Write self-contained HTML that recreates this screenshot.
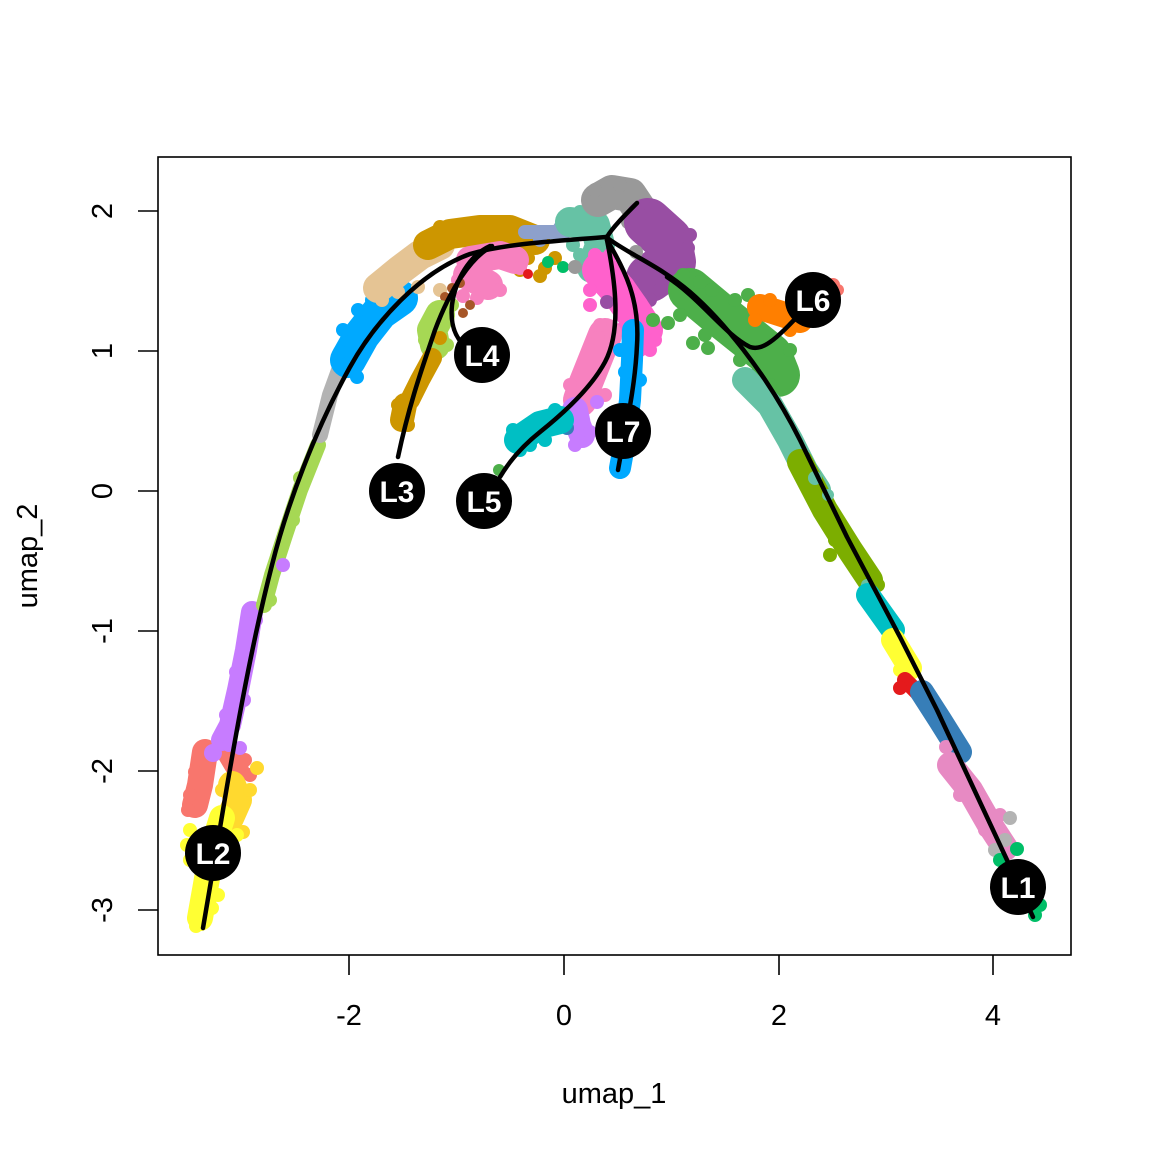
<!DOCTYPE html>
<html><head><meta charset="utf-8"><style>
html,body{margin:0;padding:0;background:#fff;}
svg{display:block}
.b{fill:none;stroke-linecap:round;stroke-linejoin:round}
text{font-family:"Liberation Sans",Arial,sans-serif;}
</style></head><body>
<svg width="1152" height="1152" viewBox="0 0 1152 1152" xmlns="http://www.w3.org/2000/svg">
<rect width="1152" height="1152" fill="#fff"/>

<!-- LEFT ARC -->
<g fill="#F8766D"><path class="b" stroke="#F8766D" stroke-width="26" d="M205,752 L200,785 L195,805"/><path class="b" stroke="#F8766D" stroke-width="22" d="M225,748 L238,770"/>
<circle cx="190" cy="795" r="7"/><circle cx="188" cy="810" r="7"/><circle cx="245" cy="760" r="7"/><circle cx="250" cy="775" r="7"/><circle cx="195" cy="772" r="7"/></g>
<g fill="#C77CFF"><path class="b" stroke="#C77CFF" stroke-width="22" d="M252,612 L246,650 L238,690 L230,725 L222,740"/>
<circle cx="213" cy="753" r="9"/><circle cx="240" cy="748" r="7"/><circle cx="256" cy="620" r="7"/><circle cx="244" cy="700" r="7"/><circle cx="229" cy="745" r="7"/><circle cx="236" cy="672" r="7"/><circle cx="226" cy="715" r="7"/></g>
<g fill="#FFD92F"><path class="b" stroke="#FFD92F" stroke-width="28" d="M232,785 L238,800 L230,818"/>
<circle cx="257" cy="768" r="7"/><circle cx="243" cy="832" r="7"/><circle cx="222" cy="790" r="7"/><circle cx="250" cy="790" r="7"/></g>
<g fill="#FFFF33"><path class="b" stroke="#FFFF33" stroke-width="26" d="M222,818 L212,850 L205,890 L200,918"/>
<circle cx="196" cy="926" r="7"/><circle cx="190" cy="830" r="7"/><circle cx="237" cy="835" r="7"/><circle cx="190" cy="860" r="7"/><circle cx="218" cy="895" r="7"/><circle cx="212" cy="908" r="7"/><circle cx="187" cy="845" r="7"/></g>
<g fill="#A6D854"><path class="b" stroke="#A6D854" stroke-width="16" d="M318,445 L300,490 L285,535 L272,575 L264,605"/>
<circle cx="300" cy="478" r="7"/><circle cx="293" cy="520" r="7"/><circle cx="270" cy="600" r="7"/></g>
<circle cx="283" cy="565" r="7" fill="#C77CFF"/>
<path class="b" stroke="#B3B3B3" stroke-width="16" d="M342,362 L330,395 L320,435"/>
<g fill="#00A9FF"><path class="b" stroke="#00A9FF" stroke-width="36" d="M348,360 L362,335 L380,312 L400,298"/>
<circle cx="408" cy="303" r="8"/><circle cx="357" cy="377" r="7"/><circle cx="340" cy="352" r="7"/><circle cx="343" cy="330" r="7"/><circle cx="372" cy="300" r="7"/><circle cx="358" cy="310" r="7"/></g>
<g fill="#E5C494"><path class="b" stroke="#E5C494" stroke-width="30" d="M378,288 L400,270 L420,255 L440,245"/>
<circle cx="440" cy="290" r="7"/><circle cx="418" cy="287" r="7"/><circle cx="398" cy="292" r="7"/><circle cx="382" cy="300" r="7"/></g>

<!-- TOP -->
<g fill="#CD9600"><path class="b" stroke="#CD9600" stroke-width="30" d="M428,245 L450,234 L480,230 L510,230 L535,240"/>
<circle cx="425" cy="238" r="7"/><circle cx="440" cy="227" r="7"/><circle cx="470" cy="224" r="7"/><circle cx="495" cy="224" r="7"/><circle cx="515" cy="227" r="7"/><circle cx="528" cy="258" r="7"/><circle cx="545" cy="268" r="7"/><circle cx="555" cy="258" r="7"/><circle cx="540" cy="276" r="7"/><circle cx="520" cy="270" r="7"/><circle cx="505" cy="262" r="7"/></g>
<g fill="#8DA0CB"><path class="b" stroke="#8DA0CB" stroke-width="14" d="M525,232 L565,232"/><circle cx="560" cy="228" r="7"/><circle cx="540" cy="240" r="7"/></g>
<g fill="#66C2A5"><path class="b" stroke="#66C2A5" stroke-width="30" d="M570,222 L595,225 L600,245 L592,268"/>
<circle cx="580" cy="212" r="7"/><circle cx="573" cy="245" r="7"/><circle cx="580" cy="255" r="7"/><circle cx="600" cy="282" r="7"/><circle cx="593" cy="275" r="7"/></g>
<g fill="#00BE67"><circle cx="548" cy="262" r="6"/><circle cx="563" cy="267" r="6"/></g>
<g fill="#F781BF"><path class="b" stroke="#F781BF" stroke-width="28" d="M470,260 L500,255 L515,260"/><path class="b" stroke="#F781BF" stroke-width="30" d="M468,275 L488,285"/>
<circle cx="463" cy="296" r="7"/><circle cx="477" cy="298" r="7"/><circle cx="500" cy="290" r="7"/><circle cx="520" cy="268" r="7"/><circle cx="458" cy="280" r="7"/></g>
<circle cx="528" cy="274" r="5" fill="#E41A1C"/>
<g fill="#A65628"><circle cx="445" cy="297" r="5"/><circle cx="452" cy="288" r="5"/><circle cx="460" cy="283" r="5"/><circle cx="470" cy="305" r="5"/><circle cx="463" cy="313" r="5"/></g>
<g fill="#A6D854"><path class="b" stroke="#A6D854" stroke-width="30" d="M440,315 L432,330 L435,345"/><circle cx="452" cy="305" r="7"/><circle cx="447" cy="345" r="7"/><circle cx="425" cy="340" r="7"/></g>
<g fill="#CD9600"><path class="b" stroke="#CD9600" stroke-width="20" d="M432,358 L420,380 L410,400"/><path class="b" stroke="#CD9600" stroke-width="24" d="M405,405 L402,420"/>
<circle cx="398" cy="405" r="7"/><circle cx="408" cy="425" r="7"/><circle cx="425" cy="370" r="7"/><circle cx="440" cy="338" r="7"/></g>
<g fill="#999999"><path class="b" stroke="#999999" stroke-width="34" d="M598,200 L612,192 L630,195 L640,210"/>
<circle cx="595" cy="190" r="7"/><circle cx="620" cy="185" r="7"/><circle cx="648" cy="210" r="7"/><circle cx="628" cy="222" r="7"/><circle cx="645" cy="230" r="7"/></g>
<g fill="#984EA3"><path class="b" stroke="#984EA3" stroke-width="48" d="M648,222 L668,240 L672,262 L650,278"/>
<circle cx="690" cy="235" r="7"/><circle cx="688" cy="248" r="7"/><circle cx="680" cy="275" r="7"/><circle cx="660" cy="290" r="7"/><circle cx="635" cy="285" r="7"/><circle cx="640" cy="215" r="7"/><circle cx="655" cy="207" r="7"/><circle cx="650" cy="300" r="7"/></g>
<g fill="#999999"><circle cx="636" cy="252" r="7"/><circle cx="575" cy="267" r="7"/></g>
<g fill="#FF61CC"><path class="b" stroke="#FF61CC" stroke-width="36" d="M600,270 L618,290 L632,310 L645,330"/>
<circle cx="590" cy="290" r="7"/><circle cx="590" cy="305" r="7"/><circle cx="655" cy="340" r="7"/><circle cx="650" cy="350" r="7"/><circle cx="620" cy="330" r="7"/><circle cx="640" cy="350" r="7"/><circle cx="595" cy="255" r="7"/><circle cx="610" cy="255" r="7"/></g>
<circle cx="607" cy="302" r="7" fill="#984EA3"/>
<g fill="#F781BF"><path class="b" stroke="#F781BF" stroke-width="34" d="M605,335 L595,360 L585,385 L580,400"/>
<circle cx="610" cy="350" r="7"/><circle cx="583" cy="410" r="7"/><circle cx="600" cy="325" r="7"/><circle cx="570" cy="385" r="7"/><circle cx="605" cy="395" r="7"/><circle cx="598" cy="338" r="7"/></g>
<g fill="#C77CFF"><path class="b" stroke="#C77CFF" stroke-width="26" d="M575,410 L578,425 L582,435"/>
<circle cx="565" cy="418" r="7"/><circle cx="590" cy="432" r="7"/><circle cx="575" cy="445" r="7"/><circle cx="597" cy="402" r="7"/></g>
<circle cx="567" cy="428" r="7" fill="#377EB8"/>
<g fill="#00BFC4"><path class="b" stroke="#00BFC4" stroke-width="28" d="M518,440 L540,425 L560,420"/>
<circle cx="513" cy="430" r="7"/><circle cx="520" cy="450" r="7"/><circle cx="545" cy="440" r="7"/><circle cx="530" cy="445" r="7"/><circle cx="555" cy="410" r="7"/></g>
<circle cx="499" cy="470" r="6" fill="#4DAF4A"/>
<g fill="#00A9FF"><path class="b" stroke="#00A9FF" stroke-width="22" d="M633,330 L632,360 L630,400 L625,440 L620,468"/>
<circle cx="620" cy="350" r="7"/><circle cx="625" cy="372" r="7"/><circle cx="640" cy="380" r="7"/><circle cx="618" cy="470" r="7"/></g>

<!-- RIGHT ARM -->
<g fill="#4DAF4A"><path class="b" stroke="#4DAF4A" stroke-width="44" d="M690,290 L720,315 L745,335 L770,355 L778,375"/>
<circle cx="653" cy="320" r="7"/><circle cx="668" cy="323" r="7"/><circle cx="683" cy="275" r="7"/><circle cx="700" cy="282" r="7"/><circle cx="712" cy="290" r="7"/><circle cx="735" cy="300" r="7"/><circle cx="748" cy="295" r="7"/><circle cx="760" cy="378" r="7"/><circle cx="708" cy="348" r="7"/><circle cx="680" cy="315" r="7"/><circle cx="693" cy="343" r="7"/><circle cx="705" cy="335" r="7"/><circle cx="740" cy="360" r="7"/><circle cx="770" cy="385" r="7"/><circle cx="790" cy="350" r="7"/></g>
<g fill="#FF7F00"><path class="b" stroke="#FF7F00" stroke-width="26" d="M760,307 L785,315 L800,320"/><circle cx="770" cy="300" r="7"/><circle cx="790" cy="330" r="7"/><circle cx="755" cy="320" r="7"/></g>
<g fill="#F8766D"><circle cx="833" cy="285" r="7"/><circle cx="838" cy="290" r="6"/></g>
<path class="b" stroke="#66C2A5" stroke-width="26" d="M745,380 L770,405 L790,440 L805,470 L818,490"/>
<g fill="#7CAE00"><path class="b" stroke="#7CAE00" stroke-width="26" d="M800,462 L825,510 L850,550 L870,580"/>
<circle cx="830" cy="555" r="7"/><circle cx="835" cy="540" r="7"/><circle cx="870" cy="575" r="7"/><circle cx="878" cy="585" r="7"/></g>
<g fill="#66C2A5"><circle cx="815" cy="478" r="7"/><circle cx="828" cy="495" r="6"/><circle cx="867" cy="585" r="6"/></g>
<path class="b" stroke="#00BFC4" stroke-width="24" d="M868,595 L893,630"/>
<g fill="#FFFF33"><path class="b" stroke="#FFFF33" stroke-width="24" d="M893,640 L910,668"/><circle cx="900" cy="670" r="7"/></g>
<g fill="#E41A1C"><path class="b" stroke="#E41A1C" stroke-width="16" d="M905,680 L930,705"/><circle cx="900" cy="688" r="7"/></g>
<path class="b" stroke="#377EB8" stroke-width="24" d="M922,692 L940,720 L960,752"/>
<g fill="#E78AC3"><path class="b" stroke="#E78AC3" stroke-width="26" d="M950,765 L970,790 L990,825 L1005,848"/>
<circle cx="946" cy="747" r="7"/><circle cx="960" cy="795" r="7"/><circle cx="1000" cy="815" r="7"/><circle cx="985" cy="830" r="7"/></g>
<g fill="#B3B3B3"><circle cx="1010" cy="818" r="7"/><circle cx="995" cy="850" r="7"/><circle cx="1005" cy="840" r="7"/></g>
<g fill="#00BE67"><circle cx="1017" cy="849" r="7"/><circle cx="1000" cy="860" r="7"/><circle cx="1035" cy="915" r="7"/><circle cx="1040" cy="905" r="7"/><circle cx="1030" cy="895" r="7"/></g>

<!-- CURVES -->
<g class="b" stroke="#000" stroke-width="4.5">
<path d="M203,928 L218,840 C232,755 250,650 272,565 C287,505 315,430 350,367 C375,322 420,272 470,254 C505,244 545,242 606,237"/>
<path d="M606,237 C630,255 660,266 690,292 C720,318 765,370 800,440 L847,537 L900,637 L937,710 L1007,860 L1033,917"/>
<path d="M667,277 C700,298 725,335 750,347 C765,352 780,335 813,300"/>
<path d="M607,237 C612,228 625,215 637,203"/>
<path d="M607,240 C625,270 640,300 637,345 C635,390 625,430 618,470"/>
<path d="M607,240 C615,280 622,330 605,362 C591,388 565,412 540,432 C525,444 510,460 500,477"/>
<path d="M490,246 C470,255 455,280 452,305 C450,325 455,340 470,350"/>
<path d="M492,246 C470,258 450,290 435,330 C425,360 410,400 398,457"/>
</g>

<!-- LABELS -->
<g font-weight="bold" font-size="30" fill="#fff" text-anchor="middle">
<circle cx="1018" cy="887" r="28" fill="#000"/><text x="1018" y="898">L1</text>
<circle cx="213" cy="853" r="28" fill="#000"/><text x="213" y="864">L2</text>
<circle cx="397" cy="491" r="28" fill="#000"/><text x="397" y="502">L3</text>
<circle cx="482" cy="355" r="28" fill="#000"/><text x="482" y="366">L4</text>
<circle cx="484" cy="501" r="28" fill="#000"/><text x="484" y="512">L5</text>
<circle cx="813" cy="300" r="28" fill="#000"/><text x="813" y="311">L6</text>
<circle cx="623" cy="431" r="28" fill="#000"/><text x="623" y="442">L7</text>
</g>

<!-- AXES -->
<rect x="158" y="157" width="913" height="798" fill="none" stroke="#000" stroke-width="1.6"/>
<g stroke="#000" stroke-width="1.6">
<line x1="349" y1="955" x2="349" y2="975"/><line x1="564" y1="955" x2="564" y2="975"/><line x1="779" y1="955" x2="779" y2="975"/><line x1="993" y1="955" x2="993" y2="975"/>
<line x1="138" y1="211" x2="158" y2="211"/><line x1="138" y1="351" x2="158" y2="351"/><line x1="138" y1="491" x2="158" y2="491"/><line x1="138" y1="631" x2="158" y2="631"/><line x1="138" y1="771" x2="158" y2="771"/><line x1="138" y1="910" x2="158" y2="910"/>
</g>
<g font-size="29" fill="#000" text-anchor="middle">
<text x="349" y="1025">-2</text><text x="564" y="1025">0</text><text x="779" y="1025">2</text><text x="993" y="1025">4</text>
<text transform="translate(112,211) rotate(-90)">2</text>
<text transform="translate(112,351) rotate(-90)">1</text>
<text transform="translate(112,491) rotate(-90)">0</text>
<text transform="translate(112,631) rotate(-90)">-1</text>
<text transform="translate(112,771) rotate(-90)">-2</text>
<text transform="translate(112,910) rotate(-90)">-3</text>
<text x="614" y="1103">umap_1</text>
<text transform="translate(37,556) rotate(-90)">umap_2</text>
</g>
</svg>
</body></html>
